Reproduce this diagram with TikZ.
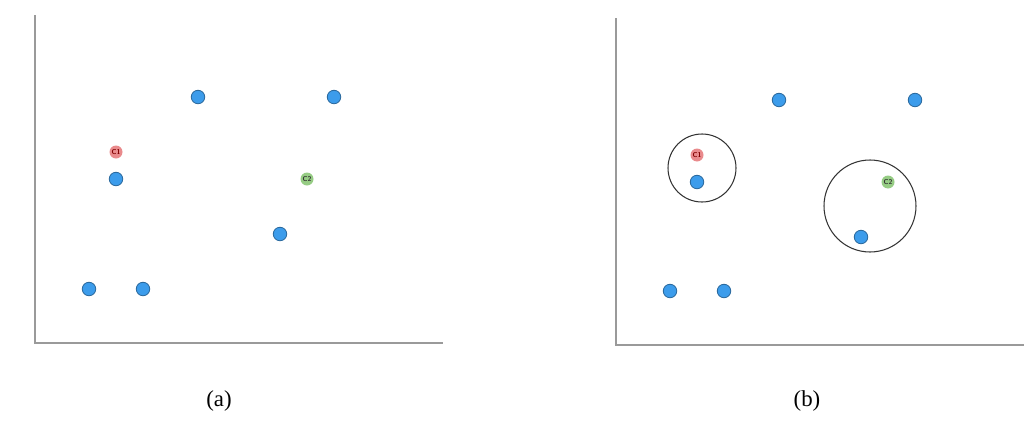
\documentclass[tikz,border=0pt]{standalone}
\usepackage{fontspec}
\setmainfont{Liberation Serif}
\usepackage{tikz}
\usetikzlibrary{positioning,calc}

\definecolor{ptblue}{HTML}{3C9CEB}
\definecolor{ptedge}{HTML}{2B6A9E}
\definecolor{cred}{HTML}{E98A8C}
\definecolor{cgreen}{HTML}{96CC84}
\definecolor{axisgray}{HTML}{9A9A9A}

\begin{document}
\begin{tikzpicture}[x=0.2mm, y=-0.2mm,
    point/.style={circle, fill=ptblue, draw=ptedge, line width=0.5pt, minimum size=13.5*0.2mm, inner sep=0pt},
    center/.style={circle, minimum size=13*0.2mm, inner sep=0pt, font=\sffamily\bfseries\fontsize{4}{4}\selectfont},
    axis/.style={draw=axisgray, line width=1.1pt},
    group/.style={draw=black!80, line width=0.6pt}]
  \useasboundingbox (0,0) rectangle (1024,429);

  % Panel (a): axes
  \coordinate (atop) at (35,15);
  \coordinate (aorig) at (35,343);
  \coordinate (aend) at (443,343);
  \draw[axis] (atop) -- (aorig) -- (aend);

  % Panel (a): data points and centroids
  \node[point] (a1) at (198,97) {};
  \node[point] (a2) at (334,97) {};
  \node[point] (a3) at (116,179) {};
  \node[point] (a4) at (280,234) {};
  \node[point] (a5) at (89,289) {};
  \node[point] (a6) at (143,289) {};
  \node[center, fill=cred, text=red!50!black] (ac1) at (116,152) {C1};
  \node[center, fill=cgreen, text=black!80] (ac2) at (307,179) {C2};
  \node (alabel) at (219,401) {\fontsize{13}{15}\selectfont (a)};

  % Panel (b): axes
  \coordinate (btop) at (616,18);
  \coordinate (borig) at (616,345);
  \coordinate (bend) at (1024,345);
  \draw[axis] (btop) -- (borig) -- (bend);

  % Panel (b): data points and centroids
  \node[point] (b1) at (779,100) {};
  \node[point] (b2) at (915,100) {};
  \node[point] (b3) at (697,182) {};
  \node[point] (b4) at (861,237) {};
  \node[point] (b5) at (670,291) {};
  \node[point] (b6) at (724,291) {};
  \node[center, fill=cred, text=red!50!black] (bc1) at (697,155) {C1};
  \node[center, fill=cgreen, text=black!80] (bc2) at (888,182) {C2};
  \node (blabel) at (807,401) {\fontsize{13}{15}\selectfont (b)};

  % Clusters
  \draw[group] (702,168) circle [radius=34];
  \draw[group] (870,206) circle [radius=46];
\end{tikzpicture}
\end{document}
